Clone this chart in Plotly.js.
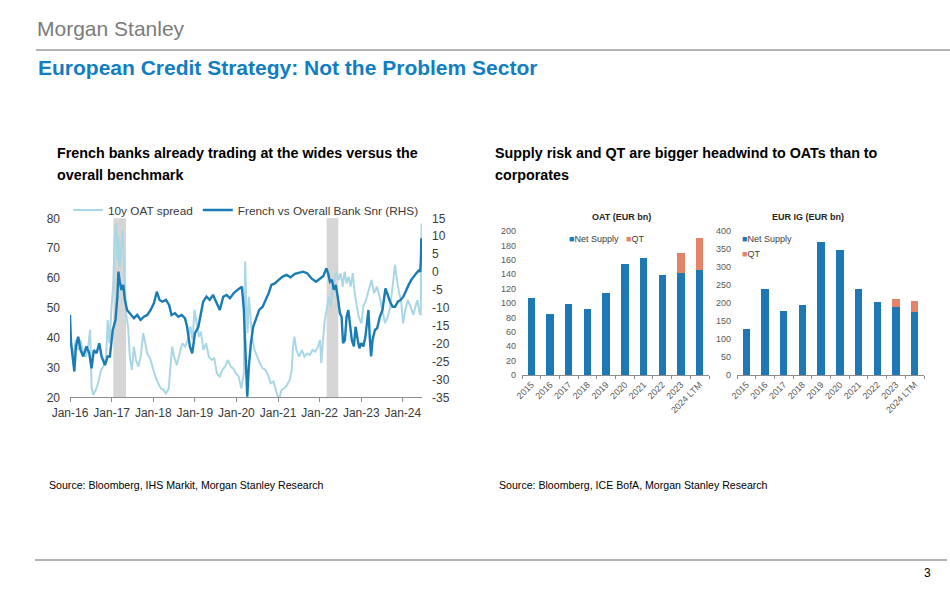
<!DOCTYPE html>
<html>
<head>
<meta charset="utf-8">
<script src="https://cdn.plot.ly/plotly-3.0.1.min.js"></script>
<style>
html,body{margin:0;padding:0;background:#fff;}
#chart{width:950px;height:589px;}
</style>
</head>
<body>
<div id="chart"></div>
<script>
// ---------- Left chart: spreads ----------
const oatDates = ["2016-01-01","2016-01-16","2016-01-30","2016-02-20","2016-03-13","2016-04-03","2016-04-26","2016-05-20","2016-06-13","2016-06-25","2016-07-08","2016-07-22","2016-08-15","2016-09-08","2016-09-30","2016-10-20","2016-11-13","2016-11-27","2016-12-12","2016-12-31","2017-01-15","2017-01-27","2017-02-09","2017-02-20","2017-03-01","2017-03-13","2017-03-25","2017-04-06","2017-04-17","2017-04-29","2017-05-10","2017-05-25","2017-06-09","2017-06-27","2017-07-15","2017-08-02","2017-08-23","2017-09-12","2017-10-05","2017-10-23","2017-11-09","2017-12-03","2017-12-27","2018-01-20","2018-02-13","2018-03-09","2018-04-01","2018-04-22","2018-05-17","2018-06-03","2018-06-15","2018-07-03","2018-07-27","2018-08-20","2018-09-13","2018-10-07","2018-10-31","2018-11-24","2018-12-12","2018-12-29","2019-01-17","2019-02-05","2019-02-23","2019-03-17","2019-04-10","2019-05-04","2019-05-28","2019-06-20","2019-07-14","2019-08-07","2019-08-31","2019-09-24","2019-10-18","2019-11-11","2019-12-04","2019-12-28","2020-01-21","2020-02-13","2020-03-06","2020-03-18","2020-03-28","2020-04-08","2020-04-19","2020-05-03","2020-05-21","2020-06-08","2020-07-01","2020-07-25","2020-08-18","2020-09-11","2020-10-04","2020-10-28","2020-11-21","2020-12-15","2021-01-07","2021-01-31","2021-02-24","2021-03-20","2021-04-13","2021-04-30","2021-05-12","2021-05-24","2021-06-10","2021-07-04","2021-07-28","2021-08-20","2021-09-13","2021-10-07","2021-10-30","2021-11-23","2021-12-17","2022-01-04","2022-01-15","2022-01-30","2022-02-14","2022-03-03","2022-03-21","2022-04-08","2022-04-25","2022-05-12","2022-05-30","2022-06-16","2022-07-04","2022-07-22","2022-08-08","2022-08-25","2022-09-12","2022-09-30","2022-10-18","2022-11-04","2022-11-22","2022-12-09","2023-01-02","2023-01-19","2023-02-12","2023-03-07","2023-03-31","2023-04-24","2023-05-18","2023-06-11","2023-07-05","2023-07-28","2023-08-21","2023-09-13","2023-10-06","2023-10-24","2023-11-11","2023-11-29","2023-12-16","2024-01-03","2024-01-22","2024-02-14","2024-03-09","2024-04-02","2024-04-20","2024-05-08","2024-05-26","2024-06-06","2024-06-12","2024-06-14"];
const oatSpread = [41.5,37.0,33.6,39.2,35.9,39.2,34.7,33.6,38.1,42.6,23.6,20.8,22.5,25.3,29.2,30.3,33.6,45.9,38.1,50.4,58.2,72.7,78.3,66.0,73.9,63.8,69.4,76.1,66.0,58.2,47.0,43.7,33.6,29.2,37.0,32.5,30.3,33.6,41.5,38.1,34.7,33.1,29.7,26.9,24.7,23.0,22.5,21.3,23.0,30.3,37.0,33.6,30.8,34.7,38.1,37.0,39.2,43.7,39.2,49.3,44.8,40.3,42.0,35.9,38.1,33.6,32.5,33.1,28.0,26.9,29.2,30.3,32.5,30.3,29.7,28.0,26.9,23.0,28.0,65.5,50.4,41.5,53.7,48.2,39.2,35.9,33.6,31.4,29.7,29.2,27.5,24.7,25.3,21.9,19.1,22.5,23.0,24.1,25.8,29.2,37.0,40.3,35.9,33.6,35.9,33.6,34.7,34.2,35.9,35.3,37.0,39.2,31.4,39.2,45.9,49.3,53.7,50.4,57.1,59.3,62.1,59.3,61.6,57.1,62.1,58.2,60.4,57.1,61.6,54.9,50.4,47.0,44.8,50.4,52.6,56.0,59.3,54.9,57.1,53.7,49.3,44.8,47.0,50.4,58.2,64.4,59.3,54.9,52.6,44.8,49.3,52.6,50.4,47.6,50.4,52.6,48.2,47.6,75.0,78.3];

const bankDates = ["2016-01-01","2016-01-10","2016-01-24","2016-02-08","2016-02-22","2016-03-13","2016-04-03","2016-04-26","2016-05-25","2016-06-18","2016-07-08","2016-07-28","2016-08-21","2016-09-14","2016-10-04","2016-11-03","2016-11-27","2016-12-16","2017-01-10","2017-02-03","2017-02-20","2017-03-01","2017-03-13","2017-03-28","2017-04-12","2017-04-27","2017-05-16","2017-06-09","2017-07-15","2017-08-13","2017-09-12","2017-10-10","2017-11-09","2017-12-09","2018-01-07","2018-02-01","2018-02-25","2018-03-23","2018-04-22","2018-05-20","2018-06-10","2018-07-10","2018-08-08","2018-09-06","2018-10-06","2018-10-25","2018-11-18","2018-12-09","2019-01-02","2019-02-01","2019-02-21","2019-03-15","2019-04-13","2019-05-12","2019-06-10","2019-07-10","2019-08-08","2019-09-07","2019-10-06","2019-11-05","2019-12-09","2020-01-18","2020-02-18","2020-03-06","2020-03-21","2020-04-05","2020-04-19","2020-05-07","2020-05-27","2020-06-20","2020-07-19","2020-08-18","2020-09-16","2020-10-10","2020-11-03","2020-12-03","2021-01-06","2021-02-10","2021-03-16","2021-04-20","2021-05-28","2021-07-05","2021-08-09","2021-09-15","2021-10-21","2021-11-30","2022-01-03","2022-02-02","2022-03-01","2022-03-16","2022-04-01","2022-04-19","2022-05-05","2022-05-22","2022-06-12","2022-06-27","2022-07-12","2022-07-25","2022-08-10","2022-08-25","2022-09-09","2022-09-24","2022-10-10","2022-10-28","2022-11-12","2022-12-01","2022-12-15","2023-01-01","2023-01-19","2023-02-06","2023-02-24","2023-03-05","2023-03-16","2023-03-28","2023-04-10","2023-05-01","2023-05-20","2023-06-13","2023-07-06","2023-08-01","2023-08-16","2023-09-10","2023-10-03","2023-10-25","2023-11-18","2023-12-12","2024-01-05","2024-01-28","2024-02-21","2024-03-15","2024-04-07","2024-05-01","2024-05-19","2024-06-01","2024-06-07","2024-06-11","2024-06-14"];
const bankSpread = [-12.0,-19.9,-23.6,-27.8,-20.8,-18.1,-21.8,-23.6,-20.8,-22.7,-26.9,-21.8,-22.7,-19.9,-23.6,-26.0,-23.6,-23.6,-16.2,-13.4,-6.9,0.1,-2.7,-5.0,-3.6,-7.8,-10.6,-11.5,-12.9,-12.0,-13.4,-12.5,-12.0,-10.6,-8.7,-5.5,-7.8,-8.3,-7.8,-9.2,-12.0,-11.5,-12.5,-12.0,-12.9,-15.3,-20.8,-22.7,-17.1,-15.3,-11.5,-8.3,-6.9,-7.8,-6.4,-8.7,-10.6,-6.9,-6.4,-7.3,-5.9,-4.8,-4.1,-10.6,-24.6,-34.8,-26.4,-19.9,-15.3,-13.4,-10.6,-9.7,-7.8,-5.9,-3.6,-3.2,-2.2,-1.3,-0.8,-1.5,-0.5,-0.2,0.1,-0.4,-1.8,-2.7,-1.8,-1.1,1.0,-0.4,-2.7,-2.2,-5.0,-3.6,-7.8,-11.5,-12.5,-19.9,-19.0,-12.5,-10.6,-14.8,-19.0,-20.8,-15.3,-19.0,-21.3,-19.9,-20.8,-18.1,-13.4,-10.6,-18.1,-23.6,-19.0,-16.2,-15.7,-12.5,-10.6,-4.6,-5.9,-8.3,-9.7,-9.7,-8.3,-7.8,-6.9,-5.0,-3.6,-2.2,-1.1,-0.2,0.4,0.1,3.4,9.4,6.2];

const rhsTickVals = [15,10,5,0,-5,-10,-15,-20,-25,-30,-35];
const rhsTickText = ["15","10","5","0","-5","-10","-15","-20","-25","-30","-35"];

const electionStarts = ["2017-01-15","2022-03-03"];
const electionEnds   = ["2017-05-07","2022-06-13"];

// ---------- Right charts: supply ----------
const years = ["2015","2016","2017","2018","2019","2020","2021","2022","2023","2024 LTM"];
const oatNetSupply = [107,85,99,92,114,154,162,139,141,146];
const oatQT        = [0,0,0,0,0,0,0,0,29,44];
const igNetSupply  = [129,240,178,195,369,348,240,203,190,174];
const igQT         = [0,0,0,0,0,0,0,0,20,31];

const FONT = "Liberation Sans, Arial, sans-serif";
const DARK = "#1a7cb5";
const LIGHT = "#a9d7e5";
const NET = "#1d78b3";
const QTC = "#e4836a";
const W = 950, H = 589;
const px = v => v / W;
const py = v => 1 - v / H;

const traces = [
  {x: oatDates, y: oatSpread, type: "scatter", mode: "lines", name: "10y OAT spread",
   line: {color: LIGHT, width: 2}, xaxis: "x", yaxis: "y", legend: "legend"},
  {x: bankDates, y: bankSpread, type: "scatter", mode: "lines", name: "French vs Overall Bank Snr (RHS)",
   line: {color: DARK, width: 2.4}, xaxis: "x", yaxis: "y2", legend: "legend"},
  {x: years, y: oatNetSupply, type: "bar", name: "Net Supply", marker: {color: NET},
   xaxis: "x2", yaxis: "y3", showlegend: false},
  {x: years, y: oatQT, type: "bar", name: "QT", marker: {color: QTC},
   xaxis: "x2", yaxis: "y3", showlegend: false},
  {x: years, y: igNetSupply, type: "bar", name: "Net Supply", marker: {color: NET},
   xaxis: "x3", yaxis: "y4", showlegend: false},
  {x: years, y: igQT, type: "bar", name: "QT", marker: {color: QTC},
   xaxis: "x3", yaxis: "y4", showlegend: false}
];

const shapes = [
  {type: "line", xref: "paper", yref: "paper", x0: px(36), x1: px(950), y0: py(50), y1: py(50),
   line: {color: "#9b9b9b", width: 1.5}},
  {type: "line", xref: "paper", yref: "paper", x0: px(35), x1: px(947), y0: py(560), y1: py(560),
   line: {color: "#9b9b9b", width: 1.5}}
];
electionStarts.forEach((s, i) => {
  shapes.push({type: "rect", xref: "x", yref: "y domain", x0: s, x1: electionEnds[i], y0: 0, y1: 1,
    fillcolor: "#d6d6d6", line: {width: 0}, layer: "below"});
});

const ann = (text, x, y, size, opts) => Object.assign({
  text: text, x: px(x), y: py(y), xref: "paper", yref: "paper", showarrow: false,
  xanchor: "left", yanchor: "middle", font: {family: FONT, size: size, color: "#000"}
}, opts || {});

const annotations = [
  ann("Morgan Stanley", 35, 28, 21, {font: {family: FONT, size: 21, color: "#7b7b7b"}}),
  ann("<b>European Credit Strategy: Not the Problem Sector</b>", 36, 68, 21, {font: {family: FONT, size: 21, color: "#117ec1"}}),
  ann("<b>French banks already trading at the wides versus the</b>", 55, 153, 14.3),
  ann("<b>overall benchmark</b>", 55, 175, 14.3),
  ann("<b>Supply risk and QT are bigger headwind to OATs than to</b>", 493, 153, 14.3),
  ann("<b>corporates</b>", 493, 175, 14.3),
  ann("<b>OAT (EUR bn)</b>", 621, 217, 9, {xanchor: "center", font: {family: FONT, size: 9, color: "#262626"}}),
  ann("<b>EUR IG (EUR bn)</b>", 808, 217, 9, {xanchor: "center", font: {family: FONT, size: 9, color: "#262626"}}),
  ann('<span style="color:' + NET + '">■</span>Net Supply   <span style="color:' + QTC + '">■</span>QT', 567, 239, 9, {font: {family: FONT, size: 9, color: "#404040"}}),
  ann('<span style="color:' + NET + '">■</span>Net Supply', 740, 239, 9, {font: {family: FONT, size: 9, color: "#404040"}}),
  ann('<span style="color:' + QTC + '">■</span>QT', 740, 254, 9, {font: {family: FONT, size: 9, color: "#404040"}}),
  ann("Source: Bloomberg, IHS Markit, Morgan Stanley Research", 47, 485, 10.6, {font: {family: FONT, size: 10.6, color: "#000"}}),
  ann("Source: Bloomberg, ICE BofA, Morgan Stanley Research", 497, 485, 10.6, {font: {family: FONT, size: 10.6, color: "#000"}}),
  ann("3", 933, 573, 12, {xanchor: "right", font: {family: FONT, size: 12, color: "#000"}})
];

const tickFontL = {family: FONT, size: 12, color: "#3a3a3a"};
const tickFontB = {family: FONT, size: 9, color: "#595959"};

const layout = {
  width: W, height: H, autosize: false,
  margin: {l: 0, r: 0, t: 0, b: 0},
  paper_bgcolor: "#fff", plot_bgcolor: "rgba(0,0,0,0)",
  font: {family: FONT},
  barmode: "stack", bargap: 0.6,
  showlegend: true,
  legend: {orientation: "h", x: px(68), y: py(210), xanchor: "left", yanchor: "middle", traceorder: "normal",
    bgcolor: "rgba(0,0,0,0)", font: {family: FONT, size: 11.8, color: "#3a3a3a"}, itemwidth: 30, tracegroupgap: 0},
  xaxis: {domain: [px(70), px(422)], type: "date", range: ["2016-01-01", "2024-06-17"],
    tick0: "2016-01-01", dtick: "M12", tickformat: "%b-%y",
    showgrid: false, zeroline: false, showline: true, linecolor: "#8c8c8c", linewidth: 1,
    ticks: "outside", ticklen: 4, tickcolor: "#8c8c8c", tickfont: tickFontL, anchor: "y"},
  yaxis: {domain: [py(397.3), py(218.3)], range: [20, 80], dtick: 10, showgrid: false, zeroline: false,
    showline: false, ticks: "", tickfont: tickFontL, anchor: "x", ticklabelstandoff: 9},
  yaxis2: {overlaying: "y", side: "right", range: [-35, 15], tickmode: "array", tickvals: rhsTickVals, ticktext: rhsTickText,
    showgrid: false, zeroline: false, showline: false, ticks: "", tickfont: tickFontL, anchor: "x", ticklabelstandoff: 9},
  xaxis2: {domain: [px(522), px(709)], type: "category", anchor: "y3", showgrid: false, zeroline: false,
    showline: true, linecolor: "#8c8c8c", ticks: "outside", ticklen: 3, tickcolor: "#8c8c8c",
    tickson: "boundaries", tickangle: -45, tickfont: tickFontB},
  yaxis3: {domain: [py(375), py(231)], range: [0, 200], dtick: 20, anchor: "x2", showgrid: false,
    zeroline: false, showline: false, ticks: "", tickfont: tickFontB, ticklabelstandoff: 5},
  xaxis3: {domain: [px(737), px(924)], type: "category", anchor: "y4", showgrid: false, zeroline: false,
    showline: true, linecolor: "#8c8c8c", ticks: "outside", ticklen: 3, tickcolor: "#8c8c8c",
    tickson: "boundaries", tickangle: -45, tickfont: tickFontB},
  yaxis4: {domain: [py(375), py(231)], range: [0, 400], dtick: 50, anchor: "x3", showgrid: false,
    zeroline: false, showline: false, ticks: "", tickfont: tickFontB, ticklabelstandoff: 5},
  shapes: shapes,
  annotations: annotations
};

Plotly.newPlot("chart", traces, layout, {displayModeBar: false, staticPlot: true});
</script>
</body>
</html>
